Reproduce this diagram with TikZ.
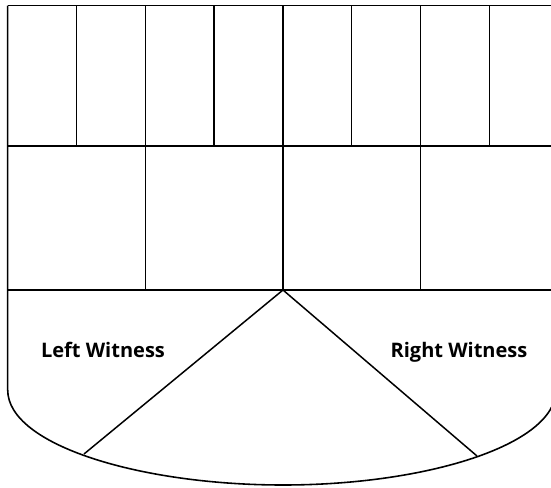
\documentclass[tikz,border=0pt]{standalone}
\usepackage{fontspec}
\setsansfont{Open Sans}
\usepackage{tikz}
\usetikzlibrary{positioning, calc}

\begin{document}
\begin{tikzpicture}[
  x=0.02cm, y=-0.02cm,
  wall/.style={draw=black, line width=0.9pt, line join=round},
  thin wall/.style={draw=black, line width=0.85pt},
  witness/.style={font=\sffamily\bfseries\fontsize{11.4}{13}\selectfont, inner sep=0pt}
]
  \useasboundingbox (0,0) rectangle (551,487);
  \clip (0,0) rectangle (551,487);
  % rows of pews
  \draw[wall] (7.7,5.5) -- (570,5.5);
  \draw[wall] (7.7,146) -- (570,146);
  \draw[wall] (7.7,290) -- (570,290);
  \foreach \i in {1,...,7}
    \draw[wall] ({7.7+68.8*\i},5.5) -- ({7.7+68.8*\i},146);
  \foreach \i in {2,4,6}
    \draw[wall] ({7.7+68.8*\i},146) -- ({7.7+68.8*\i},290);
  % witness area
  \draw[wall] (7.7,5.5) -- (7.7,390)
    .. controls (7.7,445) and (140,485) .. (283,485)
    .. controls (426,485) and (556,445) .. (556,390) -- (556,290);
  \coordinate (apex) at (283,290);
  \coordinate (lfoot) at (84,454);
  \coordinate (rfoot) at (477,456);
  \draw[thin wall] (lfoot) -- (apex) -- (rfoot);
  \node[witness] (lw) at (103,350) {Left Witness};
  \node[witness] (rw) at (459,352) {Right Witness};
\end{tikzpicture}
\end{document}
